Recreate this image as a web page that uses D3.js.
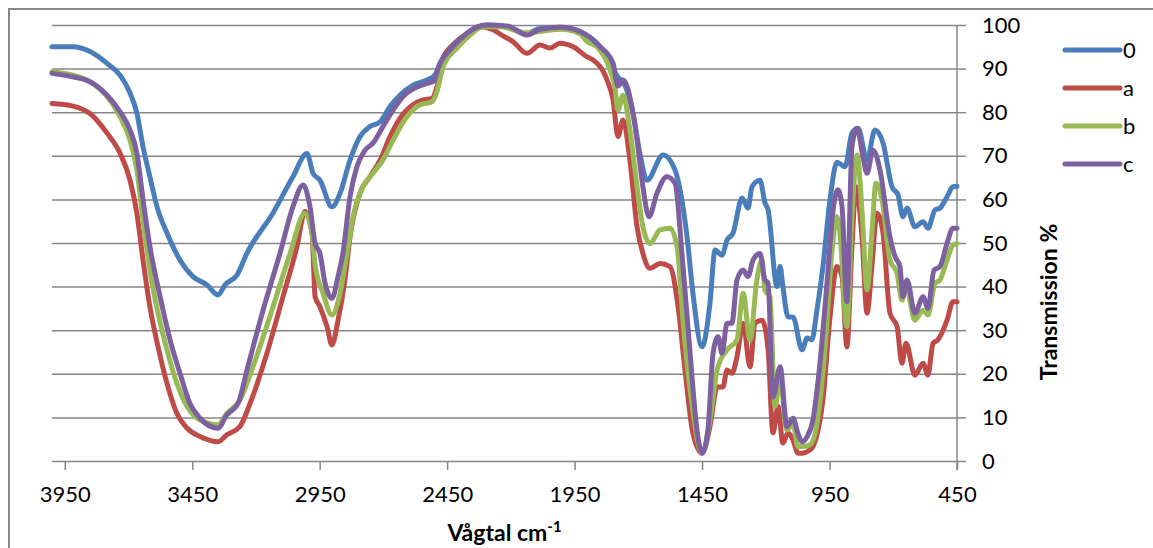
<!DOCTYPE html>
<html>
<head>
<meta charset="utf-8">
<script src="https://cdn.jsdelivr.net/npm/d3@7"></script>
<style>
  body { margin: 0; background: #fff; }
  svg text { font-family: Lato, 'Open Sans', sans-serif; fill: #000; }
</style>
</head>
<body>
<div id="canvas"></div>
<script>
// [wavenumber cm-1, transmission %]
const series0 = [[4000,95],[3918,95],[3851,93.9],[3784,91.2],[3733,88.5],[3694,84.4],[3667,79.8],[3643,72.1],[3616,65.2],[3588,58.3],[3549,52.3],[3498,46.1],[3447,42.3],[3392,40.4],[3349,38.1],[3321,40.4],[3274,42.7],[3235,47.7],[3133,56.9],[3055,65.2],[3000,70.5],[2976,66],[2949,64.4],[2902,58.3],[2870,61.4],[2831,69],[2792,74.4],[2753,76.7],[2713,77.8],[2674,81.3],[2635,83.9],[2584,86.2],[2529,87.4],[2498,88.5],[2478,91.2],[2439,94.7],[2388,97.3],[2333,99.5],[2294,100],[2215,99.6],[2137,98.1],[2086,99.2],[2007,99.5],[1929,98.5],[1850,95],[1811,91.5],[1780,88],[1760,87],[1721,79.8],[1694,70.6],[1666,64.4],[1603,70.2],[1556,66.7],[1509,51.4],[1486,38.5],[1450,26.2],[1419,36.2],[1399,48.4],[1372,47.2],[1352,50.7],[1329,52.2],[1293,60.3],[1270,58],[1254,62.9],[1223,64.4],[1203,59.2],[1191,57.6],[1156,40],[1144,44.6],[1133,40],[1113,33.1],[1093,33],[1058,25.5],[1038,28.2],[1019,27.8],[1001,33.9],[976,44.6],[948,60],[921,68.5],[889,67.5],[862,75.2],[838,76.3],[803,69],[772,75.9],[740,72.9],[705,62.9],[681,61],[662,56],[646,58],[615,53.7],[583,54.9],[564,53.4],[536,57.6],[517,58],[489,60.6],[466,62.9],[450,63]];

const seriesA = [[4000,82],[3918,81.4],[3851,79.7],[3784,75.2],[3733,70.6],[3694,64.4],[3667,56.8],[3643,46.1],[3616,35.4],[3584,26.2],[3549,17.8],[3510,10.9],[3470,7.5],[3419,5.6],[3349,4.4],[3314,6],[3263,7.9],[3223,13.2],[3157,24.7],[3094,37.7],[3039,49.2],[3008,57.2],[2980,52.3],[2968,37.7],[2949,35.4],[2921,30.8],[2902,26.6],[2878,32.3],[2851,41.5],[2831,51.4],[2792,61.4],[2753,65.2],[2713,69],[2674,74.4],[2635,78.6],[2584,81.7],[2545,82.8],[2509,83.2],[2490,85.8],[2466,92.4],[2427,95.4],[2372,98.1],[2321,99.6],[2270,98.9],[2231,97.5],[2192,96.2],[2137,93.5],[2086,95.4],[2047,94.7],[2007,95.8],[1956,95],[1901,92.7],[1878,92],[1823,87.4],[1799,82.8],[1780,74.4],[1760,78.2],[1733,69],[1705,53.7],[1682,47.6],[1654,44.2],[1615,45.3],[1576,44.6],[1544,35.4],[1517,20.9],[1486,6.4],[1450,1.8],[1419,7.9],[1391,17],[1368,17],[1352,20.9],[1333,20.1],[1313,23.9],[1289,31.6],[1262,21.6],[1242,31.6],[1215,32.3],[1191,25.5],[1172,6.4],[1152,12.5],[1133,4.1],[1113,6.4],[1093,4.8],[1074,1.8],[1058,1.8],[1027,2.5],[1001,5.6],[976,14],[948,33.1],[921,44.6],[901,42.3],[882,26.2],[862,49.2],[846,62.9],[822,50.7],[803,33.9],[783,45.3],[764,56.8],[740,52.2],[713,33.9],[685,30.8],[666,22.4],[650,27],[615,19.7],[583,22.4],[564,19.7],[544,27],[525,27.8],[489,32.3],[466,36.5],[450,36.5]];

const seriesB = [[4000,89.3],[3918,88.5],[3851,87],[3784,83.6],[3733,79],[3694,73.6],[3667,66.7],[3643,55.3],[3616,43.8],[3584,33.9],[3549,25.5],[3510,17.8],[3470,12.5],[3419,9.4],[3349,8.3],[3314,10.9],[3263,14],[3212,21.6],[3133,35.4],[3066,47.6],[3008,56.8],[2980,52.3],[2968,45],[2937,38.5],[2902,33.5],[2870,38.5],[2843,47.6],[2819,56],[2780,62.9],[2741,66],[2702,69],[2662,73.6],[2607,79],[2556,81.7],[2509,82.4],[2490,84.7],[2466,90.4],[2411,94.7],[2360,97.7],[2309,99.6],[2243,99.6],[2137,98.2],[2007,99],[1929,98],[1901,96.2],[1862,95],[1811,89.7],[1792,85.8],[1780,80.5],[1760,83.9],[1733,75.9],[1705,62.9],[1682,53.7],[1654,49.9],[1615,53],[1576,53.4],[1548,49.2],[1525,32.3],[1490,13.2],[1450,1.8],[1419,9.4],[1391,20.9],[1352,25.5],[1313,27.8],[1289,38.5],[1262,27.8],[1235,41.5],[1215,46.1],[1203,39.2],[1184,37.7],[1164,12.5],[1144,18.6],[1117,7.1],[1093,8.6],[1074,3.3],[1058,3.3],[1027,3.7],[997,9.4],[968,25.5],[940,48.4],[921,56],[909,52.2],[882,30.8],[862,56],[842,70.2],[822,56.8],[803,39.2],[783,53],[768,63.7],[744,59.9],[713,46.1],[685,43],[666,36.9],[650,40],[615,32.3],[583,34.6],[564,33.5],[536,40.8],[517,41.5],[489,46.1],[466,49.5],[450,49.9]];

const seriesC = [[4000,88.9],[3918,88.1],[3851,87],[3784,83.9],[3733,80.1],[3694,75.9],[3667,70.6],[3643,59.9],[3616,49.2],[3576,37.7],[3537,27.8],[3498,20.1],[3459,13.2],[3419,9.8],[3349,7.5],[3314,10.6],[3270,13.2],[3235,20.9],[3172,34.6],[3106,47.6],[3055,58.3],[3015,63.3],[2988,58.3],[2968,49.9],[2949,47.6],[2929,40.8],[2902,37.3],[2878,42.3],[2859,47.6],[2831,60.6],[2804,67.5],[2772,71.3],[2741,72.9],[2702,76.7],[2662,80.5],[2623,83.6],[2568,85.8],[2529,86.6],[2505,87],[2478,91.2],[2439,94.3],[2388,97.3],[2333,99.5],[2294,100],[2215,99.8],[2137,97.7],[2086,99],[2007,99.5],[1929,98.5],[1850,95],[1799,91.2],[1780,86],[1760,87.4],[1721,79.8],[1705,73.6],[1682,62.9],[1658,56],[1627,61.4],[1588,65.2],[1556,63.7],[1529,47.6],[1497,24.7],[1470,7.1],[1450,1.8],[1427,7.1],[1407,24.7],[1387,28.5],[1372,24.7],[1352,31.6],[1333,31.6],[1313,41.5],[1289,43.8],[1270,42.3],[1250,46.1],[1223,47.6],[1203,41.5],[1191,40.8],[1172,14.7],[1144,21.6],[1117,7.9],[1093,9.8],[1074,6.3],[1058,4.4],[1038,5.6],[1015,9.4],[989,21.6],[960,40.8],[936,57.6],[917,62.2],[901,58.3],[882,36.5],[862,72.1],[842,76.3],[819,69.8],[803,66],[779,71.3],[752,66.7],[713,51.4],[693,46.9],[674,44.6],[662,37.7],[646,41.5],[615,33.9],[583,37.7],[564,35],[540,43.8],[517,44.6],[489,49.9],[466,53.4],[450,53.4]];

const seriesNames = ['0', 'a', 'b', 'c'];
const seriesData = [series0, seriesA, seriesB, seriesC];
const colors = ['#4A7EBB', '#BE4B48', '#98B954', '#7D60A0'];
const xTicks = [3950, 3450, 2950, 2450, 1950, 1450, 950, 450];
const yTicks = [0, 10, 20, 30, 40, 50, 60, 70, 80, 90, 100];

const W = 1153, H = 548;
const PLOT = { LEFT: 52, RIGHT: 957, TOP: 25, BOTTOM: 461 };

const svg = d3.select('#canvas').append('svg')
  .attr('width', W)
  .attr('height', H);

// chart frame (runs off the picture on the right and bottom)
svg.append('rect')
  .attr('x', 9).attr('y', 9)
  .attr('width', W + 20).attr('height', H + 20)
  .attr('fill', 'none')
  .attr('stroke', '#878787')
  .attr('stroke-width', 2);

const x = d3.scaleLinear()
  .domain([4000, 450])
  .range([PLOT.LEFT, PLOT.RIGHT]);

const y = d3.scaleLinear()
  .domain([0, 100])
  .range([PLOT.BOTTOM, PLOT.TOP]);

// gridlines
svg.append('g')
  .attr('class', 'grid')
  .attr('transform', `translate(${PLOT.RIGHT}, 0)`)
  .call(d3.axisRight(y).tickValues(yTicks).tickSize(-(PLOT.RIGHT - PLOT.LEFT)).tickFormat(''))
  .call(g => g.select('.domain').remove())
  .call(g => g.selectAll('line').attr('stroke', '#868686').attr('stroke-width', 1.5));

// x axis
svg.append('g')
  .attr('class', 'x-axis')
  .attr('transform', `translate(0, ${PLOT.BOTTOM})`)
  .call(d3.axisBottom(x).tickValues(xTicks).tickSize(9).tickPadding(16).tickFormat(d3.format('d')))
  .call(g => g.select('.domain').remove())
  .call(g => g.selectAll('line').attr('stroke', '#868686').attr('stroke-width', 1.5))
  .call(g => g.selectAll('text').attr('font-size', 22));

// y axis on the right
svg.append('g')
  .attr('class', 'y-axis')
  .attr('transform', `translate(${PLOT.RIGHT}, 0)`)
  .call(d3.axisRight(y).tickValues(yTicks).tickSize(9).tickPadding(16))
  .call(g => g.select('.domain').remove())
  .call(g => g.selectAll('line').attr('stroke', '#868686').attr('stroke-width', 1.5))
  .call(g => g.selectAll('text').attr('font-size', 22));

svg.append('line')
  .attr('x1', PLOT.RIGHT).attr('x2', PLOT.RIGHT)
  .attr('y1', PLOT.TOP).attr('y2', PLOT.BOTTOM + 9)
  .attr('stroke', '#868686').attr('stroke-width', 1.5);

// series
const line = d3.line()
  .x(d => x(d[0]))
  .y(d => y(d[1]))
  .curve(d3.curveMonotoneX);

svg.append('g')
  .selectAll('path')
  .data(seriesData)
  .enter().append('path')
    .attr('d', line)
    .attr('fill', 'none')
    .attr('stroke', (d, i) => colors[i])
    .attr('stroke-width', 5)
    .attr('stroke-linejoin', 'round')
    .attr('stroke-linecap', 'round');

// axis titles
const xTitle = svg.append('text')
  .attr('x', (PLOT.LEFT + PLOT.RIGHT) / 2)
  .attr('y', 541)
  .attr('text-anchor', 'middle')
  .attr('font-size', 23)
  .attr('font-weight', 'bold')
  .text('Vågtal cm');
xTitle.append('tspan')
  .attr('dy', -9)
  .attr('font-size', 15)
  .text('-1');

svg.append('text')
  .attr('transform', 'translate(1057, 302) rotate(-90)')
  .attr('text-anchor', 'middle')
  .attr('font-size', 23)
  .attr('font-weight', 'bold')
  .text('Transmission %');

// legend
const legend = svg.append('g')
  .selectAll('g')
  .data(seriesNames)
  .enter().append('g')
    .attr('transform', (d, i) => `translate(1065, ${50 + i * 38})`);

legend.append('line')
  .attr('x1', 0).attr('x2', 55)
  .attr('stroke', (d, i) => colors[i])
  .attr('stroke-width', 5)
  .attr('stroke-linecap', 'round');

legend.append('text')
  .attr('x', 58)
  .attr('dy', '0.35em')
  .attr('font-size', 22)
  .text(d => d);
</script>
</body>
</html>
